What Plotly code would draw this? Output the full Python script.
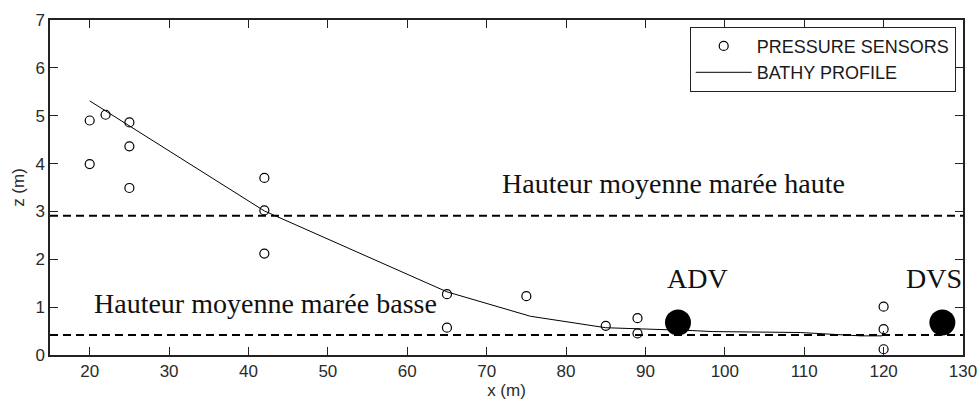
import plotly.graph_objects as go

# Pressure sensors (open circles)
sensor_x = [20, 20, 22, 25, 25, 25, 42, 42, 42, 65, 65, 75, 85, 89, 89, 120, 120, 120]
sensor_z = [4.90, 3.99, 5.02, 4.86, 4.36, 3.49, 3.70, 3.02, 2.12, 1.27, 0.57, 1.23, 0.61, 0.77, 0.45, 1.01, 0.54, 0.12]

# Bathymetric profile
bathy_x = [20, 42, 65, 75.5, 85, 92.3, 95.9, 98.4, 104.7, 109.5, 117.1, 119.8, 120]
bathy_z = [5.31, 3.01, 1.32, 0.81, 0.57, 0.54, 0.51, 0.49, 0.47, 0.47, 0.40, 0.40, 0.50]

# Instruments (filled black dots)
instr_names = ["ADV", "DVS"]
instr_x = [94.1, 127.4]
instr_z = [0.68, 0.68]

# Mean tide levels
tide_names = ["Hauteur moyenne marée haute", "Hauteur moyenne marée basse"]
tide_z = [2.91, 0.42]
x_range = [15, 130]
y_range = [0, 7]

axis_font = dict(family="Liberation Sans, Arial, sans-serif", size=17, color="#2a2a2a")
serif = dict(family="Liberation Serif, Times New Roman, serif", size=28, color="#111111")

fig = go.Figure()

for z in tide_z:
    fig.add_trace(go.Scatter(
        x=x_range, y=[z, z], mode="lines",
        line=dict(color="black", width=2, dash="8px,5px"),
        showlegend=False, hoverinfo="skip"))

fig.add_trace(go.Scatter(
    x=sensor_x, y=sensor_z, mode="markers", name="PRESSURE SENSORS",
    marker=dict(symbol="circle-open", size=9, color="black", line=dict(width=1.2, color="black"))))

fig.add_trace(go.Scatter(
    x=bathy_x, y=bathy_z, mode="lines", name="BATHY PROFILE",
    line=dict(color="black", width=1)))

fig.add_trace(go.Scatter(
    x=instr_x, y=instr_z, mode="markers",
    marker=dict(symbol="circle", size=26, color="black"),
    showlegend=False))

# Text labels
fig.add_annotation(x=71.7, y=3.59, xref="x", yref="y", text=tide_names[0],
                   showarrow=False, xanchor="left", yanchor="middle", font=serif)
fig.add_annotation(x=20.3, y=1.08, xref="x", yref="y", text=tide_names[1],
                   showarrow=False, xanchor="left", yanchor="middle", font=serif)
for name, xv in zip(instr_names, [96.6, 126.4]):
    fig.add_annotation(x=xv, y=1.60, xref="x", yref="y", text=name,
                       showarrow=False, xanchor="center", yanchor="middle", font=serif)

fig.update_xaxes(
    range=x_range, tickmode="array", tickvals=list(range(20, 131, 10)),
    ticks="inside", ticklen=8, tickcolor="#222", mirror="ticks",
    showline=True, linecolor="#222", linewidth=1.5, showgrid=False, zeroline=False,
    automargin=False,
    tickfont=axis_font, title=dict(text="x (m)", font=axis_font, standoff=2))
fig.update_yaxes(
    range=y_range, tickmode="array", tickvals=list(range(0, 8)),
    ticks="inside", ticklen=8, tickcolor="#222", mirror="ticks",
    showline=True, linecolor="#222", linewidth=1.5, showgrid=False, zeroline=False,
    automargin=False,
    tickfont=axis_font, title=dict(text="z (m)", font=axis_font, standoff=6))

fig.update_layout(
    width=979, height=402,
    margin=dict(l=50, r=16, t=20, b=47),
    paper_bgcolor="white", plot_bgcolor="white",
    legend=dict(x=0.992, y=0.98, xanchor="right", yanchor="top",
                bgcolor="white", bordercolor="#222", borderwidth=1,
                font=dict(family="Liberation Sans, Arial, sans-serif", size=18, color="#1a1a1a"),
                tracegroupgap=0, itemwidth=56),
    showlegend=True,
)

fig.write_html("out.html", config={"displayModeBar": False},
               post_script="document.body.style.margin='0';document.body.style.padding='0';document.body.style.overflow='hidden';")
